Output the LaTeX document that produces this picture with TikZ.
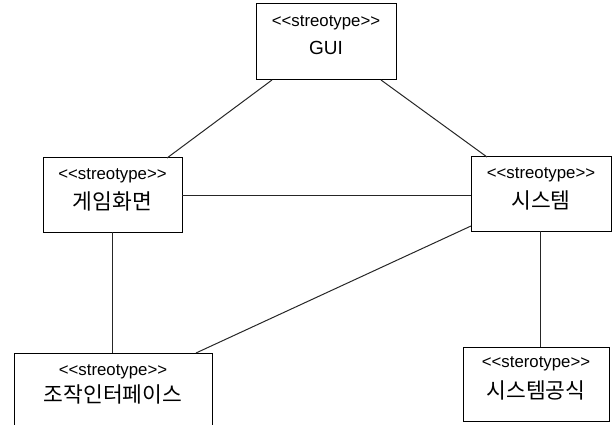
\documentclass[tikz,border=0pt]{standalone}
\usepackage{fontspec}
\setmainfont{Liberation Sans}[Ligatures=NoCommon]
\newfontfamily\kr{Noto Sans CJK KR}
\usetikzlibrary{calc}
\tikzset{
  box/.style={draw=black, line width=1pt, inner sep=0pt, outer sep=0pt, rectangle},
  st/.style={inner sep=0pt, font=\fontsize{16.8}{20}\selectfont},
  nm/.style={inner sep=0pt, font=\fontsize{19}{22}\selectfont},
  kn/.style={inner sep=0pt, font=\kr\fontsize{21.5}{24}\selectfont},
  conn/.style={draw=black!85, line width=1pt}
}
\begin{document}
\begin{tikzpicture}[x=1pt,y=-1pt]
\useasboundingbox (0,0) rectangle (613,425);
% boxes
\node[box, minimum width=140pt, minimum height=76pt] (gui) at (326,42) {};
\node[box, minimum width=139pt, minimum height=74pt] (game) at (112.5,195) {};
\node[box, minimum width=140pt, minimum height=74pt] (sys) at (541,194) {};
\node[box, minimum width=198pt, minimum height=87pt] (op) at (113,396.5) {};
\node[box, minimum width=146pt, minimum height=74pt] (form) at (536,384) {};
% texts
\node[st] (guiS) at ([yshift=-19pt]gui.north) {<{}<streotype>{}>};
\node[nm] (guiN) at ([yshift=-44pt]gui.north) {GUI};
\node[st] (gameS) at ([yshift=-18pt]game.north) {<{}<streotype>{}>};
\node[kn] (gameN) at ([yshift=-43pt]game.north) {게임화면};
\node[st] (sysS) at ([yshift=-18pt]sys.north) {<{}<streotype>{}>};
\node[kn] (sysN) at ([yshift=-43pt]sys.north) {시스템};
\node[st] (opS) at ([yshift=-19pt]op.north) {<{}<streotype>{}>};
\node[kn] (opN) at ([yshift=-41pt]op.north) {조작인터페이스};
\node[st] (formS) at ([yshift=-17pt]form.north) {<{}<sterotype>{}>};
\node[kn] (formN) at ([yshift=-43pt]form.north) {시스템공식};
% connectors
\draw[conn] ([xshift=16pt]gui.south west) -- ([xshift=-15pt]game.north east);
\draw[conn] ([xshift=-15pt]gui.south east) -- ([xshift=16pt]sys.north west);
\draw[conn] (game.east) -- (game.east -| sys.west);
\draw[conn] (game.south) -- (game.south |- op.north);
\draw[conn] ([yshift=5pt]sys.south west) -- ([xshift=-16pt]op.north east);
\draw[conn] ([xshift=-1pt]sys.south) -- ([xshift=-1pt]sys.south |- form.north);
\end{tikzpicture}
\end{document}
